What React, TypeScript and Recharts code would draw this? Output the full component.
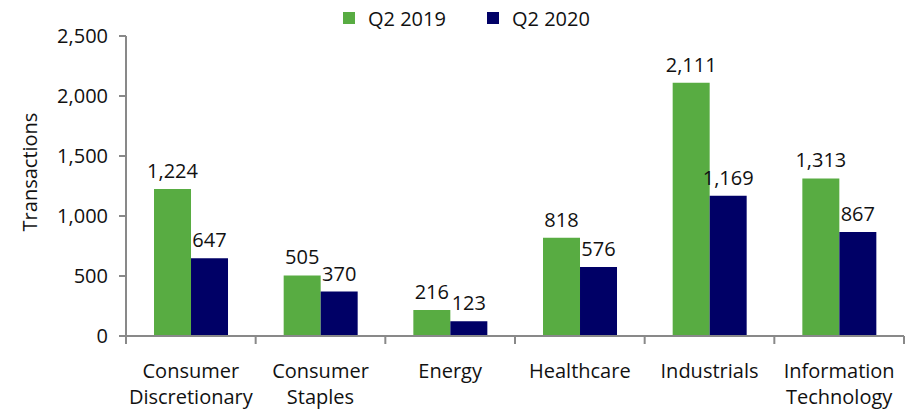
import { Bar, BarChart, LabelList, XAxis, YAxis } from "recharts";

const FONT = "'Open Sans', 'Noto Sans', sans-serif";
const FS = 20;
const GREEN = "#58ac42";
const NAVY = "#000066";
const AXIS = "#898989";
const INK = "#111";

const sectors = [
  "Consumer\nDiscretionary",
  "Consumer\nStaples",
  "Energy",
  "Healthcare",
  "Industrials",
  "Information\nTechnology",
];
const q2_2019 = [1224, 505, 216, 818, 2111, 1313];
const q2_2020 = [647, 370, 123, 576, 1169, 867];
const yTicks = [0, 500, 1000, 1500, 2000, 2500];
const seriesNames = ["Q2 2019", "Q2 2020"];

const data = sectors.map((name, i) => ({
  name,
  y2019: q2_2019[i],
  y2020: q2_2020[i],
}));

const fmt = (v: number) => v.toLocaleString("en-US");

// category labels with tick marks on the band edges, like Excel does
function SectorTick(props: any) {
  const { x, y, payload, index, visibleTicksCount } = props;
  const half = payload?.offset ?? 778 / 12;
  const lines = String(payload.value).split("\n");
  const last = index === visibleTicksCount - 1;
  return (
    <g>
      <line x1={x - half} x2={x - half} y1={y} y2={y + 8} stroke={AXIS} strokeWidth={2} />
      {last && <line x1={x + half} x2={x + half} y1={y} y2={y + 8} stroke={AXIS} strokeWidth={2} />}
      <text textAnchor="middle" fill={INK} fontSize={FS} fontFamily={FONT}>
        {lines.map((l, i) => (
          <tspan key={i} x={x} y={y + 42 + i * 26}>
            {l}
          </tspan>
        ))}
      </text>
    </g>
  );
}

function YLabel(props: any) {
  const vb = props.viewBox ?? { x: 0, y: 36, height: 300 };
  const cx = 37;
  const cy = vb.y + vb.height / 2 - 14;
  return (
    <text
      x={cx}
      y={cy}
      transform={`rotate(-90 ${cx} ${cy})`}
      textAnchor="middle"
      fill={INK}
      fontSize={FS}
      fontFamily={FONT}
    >
      Transactions
    </text>
  );
}

function LegendBox() {
  const colors = [GREEN, NAVY];
  const lefts = [343, 487];
  return (
    <svg width={910} height={36} style={{ position: "absolute", left: 0, top: 0 }}>
      {seriesNames.map((n, i) => (
        <g key={n}>
          <rect x={lefts[i]} y={12} width={12} height={12} fill={colors[i]} />
          <text x={lefts[i] + 25} y={26} fill={INK} fontSize={FS} fontFamily={FONT}>
            {n}
          </text>
        </g>
      ))}
    </svg>
  );
}

export default function App() {
  return (
    <div style={{ position: "absolute", left: 0, top: 0, width: 910, height: 412, background: "#fff" }}>
      <BarChart
        width={910}
        height={412}
        data={data}
        margin={{ top: 36, right: 6, bottom: 0, left: 0 }}
        barCategoryGap="21.6%"
        barGap={0}
      >
        <XAxis
          dataKey="name"
          height={76}
          interval={0}
          tickLine={false}
          tickSize={0}
          tickMargin={0}
          axisLine={{ stroke: AXIS, strokeWidth: 2 }}
          tick={<SectorTick />}
        />
        <YAxis
          width={126}
          domain={[0, 2500]}
          ticks={yTicks}
          tickFormatter={fmt}
          tickSize={7}
          tickMargin={11}
          tickLine={{ stroke: AXIS, strokeWidth: 2 }}
          axisLine={{ stroke: AXIS, strokeWidth: 2 }}
          tick={{ fill: INK, fontSize: FS, fontFamily: FONT }}
          label={<YLabel />}
        />
        <Bar dataKey="y2019" name={seriesNames[0]} fill={GREEN} isAnimationActive={false}>
          <LabelList dataKey="y2019" position="top" offset={11} formatter={fmt} fill={INK} fontSize={FS} fontFamily={FONT} />
        </Bar>
        <Bar dataKey="y2020" name={seriesNames[1]} fill={NAVY} isAnimationActive={false}>
          <LabelList dataKey="y2020" position="top" offset={11} formatter={fmt} fill={INK} fontSize={FS} fontFamily={FONT} />
        </Bar>
      </BarChart>
      <LegendBox />
    </div>
  );
}
